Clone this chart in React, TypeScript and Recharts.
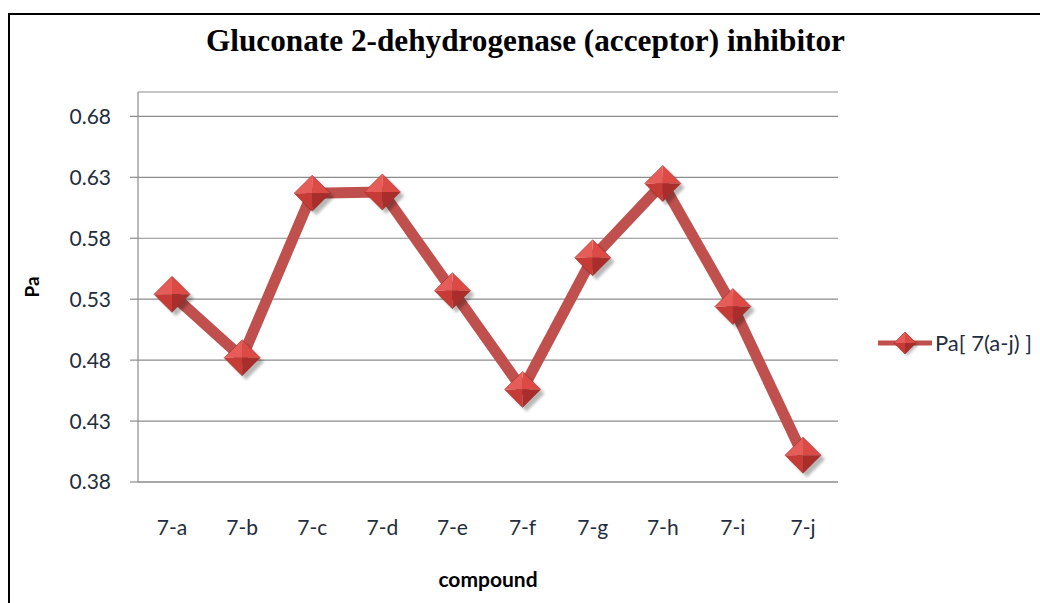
import React from 'react';
import { LineChart, Line, XAxis, YAxis, CartesianGrid, Legend } from 'recharts';

const compounds = ['7-a', '7-b', '7-c', '7-d', '7-e', '7-f', '7-g', '7-h', '7-i', '7-j'];
const paValues = [0.534, 0.482, 0.617, 0.618, 0.537, 0.456, 0.564, 0.625, 0.524, 0.402];
const yTicks = [0.38, 0.43, 0.48, 0.53, 0.58, 0.63, 0.68];

const data = compounds.map((name, i) => ({ name, pa: paValues[i] }));

const RED = '#C0504D';
const FONT = 'Lato, "Open Sans", sans-serif';

const Diamond = ({ cx, cy, r = 18 }: { cx: number; cy: number; r?: number }) => {
  if (cx == null || cy == null) return null;
  const top = `${cx},${cy - r}`;
  const right = `${cx + r},${cy}`;
  const bottom = `${cx},${cy + r}`;
  const left = `${cx - r},${cy}`;
  const c = `${cx},${cy}`;
  const s = r > 12 ? 4 : 2;
  return (
    <g>
      <polygon
        points={`${cx + s},${cy - r + s} ${cx + r + s},${cy + s} ${cx + s},${cy + r + s} ${cx - r + s},${cy + s}`}
        fill="rgba(0,0,0,0.28)"
        filter="url(#dshadow)"
      />
      <polygon points={`${top} ${right} ${c}`} fill="#DD4A46" />
      <polygon points={`${top} ${left} ${c}`} fill="#E65C58" />
      <polygon points={`${left} ${bottom} ${c}`} fill="#C73B37" />
      <polygon points={`${right} ${bottom} ${c}`} fill="#A92E2B" />
      <polygon points={`${top} ${right} ${bottom} ${left}`} fill="none" stroke="#9E2C29" strokeWidth={0.6} />
    </g>
  );
};

const renderLegend = () => (
  <svg width={170} height={30}>
    <line x1={0} y1={15} x2={54} y2={15} stroke={RED} strokeWidth={5} />
    <Diamond cx={27} cy={15} r={11} />
    <text x={57} y={23} fontFamily={FONT} fontSize={22} fill="#1F2D3D">
      Pa[ 7(a-j) ]
    </text>
  </svg>
);

export default function App() {
  return (
    <div style={{ position: 'fixed', left: 0, top: 0, width: 1040, height: 603, background: '#fff', overflow: 'hidden' }}>
      <div
        style={{
          position: 'absolute',
          left: 8,
          top: 13,
          width: 1060,
          height: 620,
          border: '2px solid #000',
          boxSizing: 'border-box',
        }}
      />
      <svg style={{ position: 'absolute', left: 0, top: 0 }} width={1040} height={80}>
        <text
          x={206}
          y={51}
          fontFamily='"Liberation Serif", "Times New Roman", serif'
          fontWeight="bold"
          fontSize={31}
          textLength={639}
          lengthAdjust="spacingAndGlyphs"
          fill="#000"
        >
          Gluconate 2-dehydrogenase (acceptor) inhibitor
        </text>
      </svg>
      <div style={{ position: 'absolute', left: 0, top: 0 }}>
        <LineChart width={1040} height={603} data={data} margin={{ top: 92, right: 202, bottom: 0, left: 0 }}>
          <defs>
            <filter id="dshadow" x="-50%" y="-50%" width="200%" height="200%">
              <feGaussianBlur stdDeviation="1.5" />
            </filter>
          </defs>
          <CartesianGrid vertical={false} stroke="#8C8C8C" strokeWidth={1.2} />
          <XAxis
            dataKey="name"
            height={121}
            padding={{ left: 34, right: 35 }}
            tickLine={false}
            tickSize={0}
            tickMargin={38}
            axisLine={{ stroke: '#8C8C8C', strokeWidth: 1.2 }}
            tick={{ fill: '#1F2D3D', fontFamily: FONT, fontSize: 21 }}
            label={{
              value: 'compound',
              position: 'insideBottom',
              offset: 16,
              style: { fill: '#000', fontFamily: FONT, fontSize: 21, fontWeight: 'bold' },
            }}
          />
          <YAxis
            width={138}
            domain={[0.38, 0.7]}
            ticks={yTicks}
            allowDataOverflow
            tickSize={8}
            tickMargin={19}
            tickFormatter={(v: number) => v.toFixed(2)}
            axisLine={{ stroke: '#8C8C8C', strokeWidth: 1.2 }}
            tickLine={{ stroke: '#8C8C8C', strokeWidth: 1.2 }}
            tick={{ fill: '#1F2D3D', fontFamily: FONT, fontSize: 21 }}
            label={{
              content: (props: any) => {
                const vb = props.viewBox || { x: 0, y: 92, width: 138, height: 390 };
                const x = vb.x + 31;
                const y = vb.y + vb.height / 2;
                return (
                  <text
                    x={x}
                    y={y}
                    transform={`rotate(-90, ${x}, ${y})`}
                    textAnchor="middle"
                    dominantBaseline="central"
                    fontFamily={FONT}
                    fontWeight="bold"
                    fontSize={19}
                    fill="#000"
                  >
                    Pa
                  </text>
                );
              },
            }}
          />
          <Legend
            layout="horizontal"
            verticalAlign="middle"
            align="center"
            content={renderLegend}
            wrapperStyle={{ left: 878, top: 328, width: 170, height: 30 }}
          />
          <Line
            dataKey="pa"
            name="Pa[ 7(a-j) ]"
            stroke={RED}
            strokeWidth={11}
            strokeLinejoin="round"
            isAnimationActive={false}
            dot={(p: any) => <Diamond key={`dot-${p.index}`} cx={p.cx} cy={p.cy} />}
            activeDot={false}
          />
        </LineChart>
      </div>
    </div>
  );
}
